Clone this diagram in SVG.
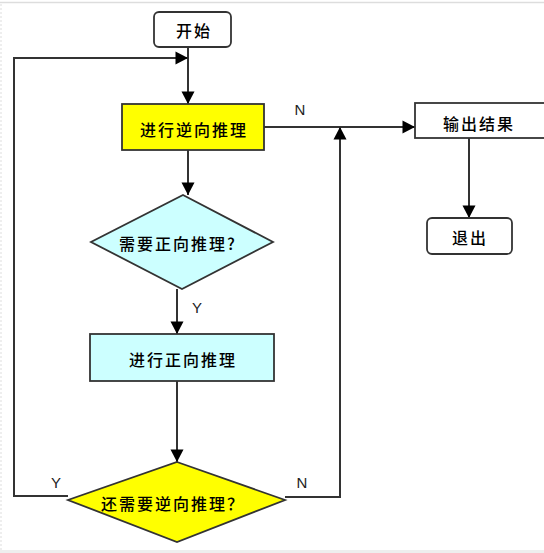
<svg xmlns="http://www.w3.org/2000/svg" width="544" height="553" viewBox="0 0 544 553">
  <style>
    .box { stroke: #333333; stroke-width: 1.8; }
    .t { font-family: "Noto Sans CJK SC", "Liberation Sans", sans-serif; font-size: 16px; font-weight: 500; fill: #000000; text-anchor: middle; dominant-baseline: central; letter-spacing: 2px; }
    .lbl { font-family: "Liberation Sans", Arial, sans-serif; font-size: 15px; fill: #222222; text-anchor: middle; }
    .c { fill: none; stroke: #333333; stroke-width: 2; }
  </style>
  <defs>
    <marker id="arr" markerUnits="userSpaceOnUse" markerWidth="14" markerHeight="14" viewBox="0 0 14 14" refX="13" refY="7" orient="auto">
      <path d="M0.5,0.5 L13,7 L0.5,13.5 Z" fill="#000000"/>
    </marker>
  </defs>
  <rect x="0" y="0" width="544" height="553" fill="#ffffff"/>
  <line x1="0" y1="2.5" x2="544" y2="2.5" stroke="#dddddd" stroke-width="1.5"/>
  <line x1="1" y1="4" x2="1" y2="550" stroke="#dddddd" stroke-width="1" stroke-dasharray="2,2"/>
  <rect x="0" y="550" width="544" height="3" fill="#eeeeee"/>

  <g id="connectors">
    <path class="c" d="M188,47 V104" marker-end="url(#arr)"/>
    <path class="c" d="M68,496 H14 V58 H188" marker-end="url(#arr)"/>
    <path class="c" d="M188,150 V195" marker-end="url(#arr)"/>
    <path class="c" d="M264,127 H415" marker-end="url(#arr)"/>
    <path class="c" d="M177,289 V334" marker-end="url(#arr)"/>
    <path class="c" d="M177,381 V462" marker-end="url(#arr)"/>
    <path class="c" d="M285,497 H340 V127" marker-end="url(#arr)"/>
    <path class="c" d="M469,138 V218" marker-end="url(#arr)"/>
    <text class="lbl" x="300" y="115">N</text>
    <text class="lbl" x="197" y="313">Y</text>
    <text class="lbl" x="56" y="488">Y</text>
    <text class="lbl" x="302" y="488">N</text>
  </g>

  <g id="start">
    <rect class="box" x="154" y="12" width="77" height="35" rx="5" fill="#ffffff"/>
    <text class="t" x="194" y="30">开始</text>
  </g>
  <g id="backward">
    <rect class="box" x="122" y="104" width="142" height="46" fill="#ffff00"/>
    <text class="t" x="194" y="129">进行逆向推理</text>
  </g>
  <g id="need-forward">
    <polygon class="box" points="183,195 273,242 182,289 91,242" fill="#ccffff"/>
    <text class="t" x="178" y="243">需要正向推理?</text>
  </g>
  <g id="forward">
    <rect class="box" x="90" y="334" width="184" height="47" fill="#ccffff"/>
    <text class="t" x="183" y="359">进行正向推理</text>
  </g>
  <g id="need-backward">
    <polygon class="box" points="177,462 285,500 177,542 68,500" fill="#ffff00"/>
    <text class="t" x="173" y="503">还需要逆向推理？</text>
  </g>
  <g id="output">
    <rect class="box" x="415" y="103" width="140" height="35" fill="#ffffff"/>
    <text class="t" x="479" y="123">输出结果</text>
  </g>
  <g id="exit">
    <rect class="box" x="427" y="218" width="85" height="36" rx="5" fill="#ffffff"/>
    <text class="t" x="470" y="237">退出</text>
  </g>
</svg>
